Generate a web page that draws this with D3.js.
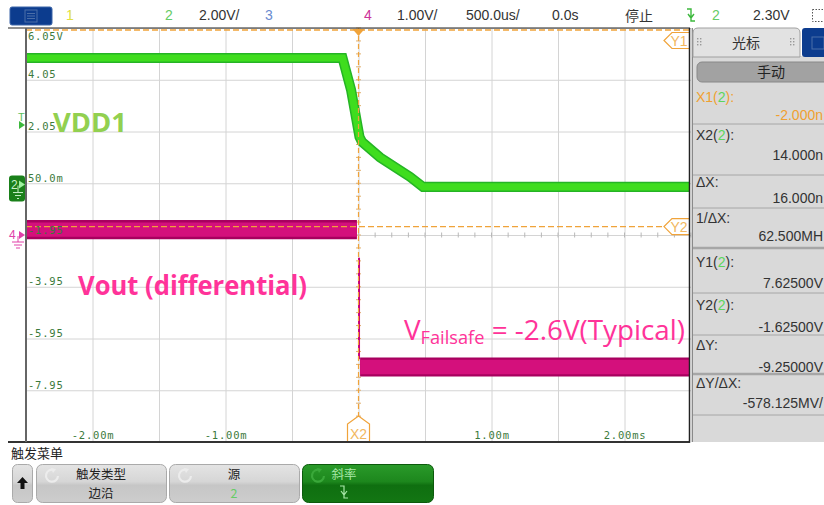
<!DOCTYPE html>
<html><head><meta charset="utf-8">
<script src="https://cdn.jsdelivr.net/npm/d3@7"></script>
<style>
html,body{margin:0;padding:0;background:#fff;}
svg{display:block;}
</style></head><body>
<svg id="c" width="824" height="505"></svg>
<script>
// ---------------- data ----------------
const timeDomain = [-2.5, 2.5];          // ms  (500 us/div, 10 div)
const ch2Domain  = [-9.95, 6.05];        // V   (2.00 V/div, 8 div)
const ch4Domain  = [-4, 4];              // V   (1.00 V/div, 8 div)
const xGridTicks = [-2.5,-2,-1.5,-1,-0.5,0,0.5,1,1.5,2,2.5];
const yGridTicks = [6.05,4.05,2.05,0.05,-1.95,-3.95,-5.95,-7.95,-9.95];
const yTickValues = [6.05,4.05,2.05,0.05,-1.95,-3.95,-5.95,-7.95];
const yTickLabels = ["6.05V","4.05","2.05","50.0m","-1.95","-3.95","-5.95","-7.95"];
const xTickValues = [-2,-1,1,2];
const xTickLabels = ["-2.00m","-1.00m","1.00m","2.00ms"];

// VDD1 (channel 2) trace centre
const vddTime = [-2.5, -0.12, -0.056, 0.0075, 0.026, 0.162, 0.387, 0.485, 2.5];
const vddVolt = [4.89, 4.89, 3.66, 1.84, 1.65, 1.05, 0.30, -0.09, -0.09];
const vddBand = 0.39;                    // V, full noise band

// Vout (channel 4) trace
const voutPreTime  = [-2.5, -0.012];
const voutPreVolt  = [0.105, 0.105];
const voutPostTime = [0.012, 2.5];
const voutPostVolt = [-2.55, -2.55];
const voutBand = 0.185;                  // V, half noise band
const voutEdgeTime = 0.004;
const voutEdgeVolt = [-0.44, -2.40];

// cursors / trigger
const cursorX1 = -0.000002, cursorX2 = 0.000014;   // ms
const cursorY1 = 7.625, cursorY2 = -1.625;         // V (ch2)
const triggerLevel = 2.30;

// cursor panel (as visible in the narrow side panel)
const panelLabels = ["X1(2):","X2(2):","ΔX:","1/ΔX:","Y1(2):","Y2(2):","ΔY:","ΔY/ΔX:"];
const panelValues = ["-2.000n","14.000n","16.000n","62.500MH","7.62500V","-1.62500V","-9.25000V","-578.125MV/"];

// ---------------- drawing ----------------
const svg = d3.select("#c");
const L = 26, R = 691, T = 28, B = 442;
const x  = d3.scaleLinear().domain(timeDomain).range([L, R]);
const y2 = d3.scaleLinear().domain(ch2Domain).range([B, T]);
const y4 = d3.scaleLinear().domain(ch4Domain).range([B, T]);

const defs = svg.append("defs");
defs.append("clipPath").attr("id","plotclip").append("rect")
  .attr("x",L+1).attr("y",T).attr("width",689-L-1).attr("height",B-T);
const gGray = defs.append("linearGradient").attr("id","btnGray").attr("x1",0).attr("y1",0).attr("x2",0).attr("y2",1);
gGray.append("stop").attr("offset","0%").attr("stop-color","#e4e4e4");
gGray.append("stop").attr("offset","45%").attr("stop-color","#d6d6d6");
gGray.append("stop").attr("offset","55%").attr("stop-color","#c6c6c6");
gGray.append("stop").attr("offset","100%").attr("stop-color","#cdcdcd");
const gGreen = defs.append("linearGradient").attr("id","btnGreen").attr("x1",0).attr("y1",0).attr("x2",0).attr("y2",1);
gGreen.append("stop").attr("offset","0%").attr("stop-color","#2a9a2a");
gGreen.append("stop").attr("offset","45%").attr("stop-color","#1d871d");
gGreen.append("stop").attr("offset","55%").attr("stop-color","#0f6f10");
gGreen.append("stop").attr("offset","100%").attr("stop-color","#137613");

// grid
svg.append("g").attr("transform",`translate(0,${B})`)
  .call(d3.axisBottom(x).tickValues(xGridTicks).tickSize(-(B-T)).tickFormat(""))
  .call(g=>{g.select(".domain").remove(); g.selectAll("line").attr("stroke","#d4d4d4");});
svg.append("g").attr("transform",`translate(${L},0)`)
  .call(d3.axisLeft(y2).tickValues(yGridTicks).tickSize(-(R-L)).tickFormat(""))
  .call(g=>{g.select(".domain").remove(); g.selectAll("line").attr("stroke","#d4d4d4");});

// centre-axis minor ticks (4 per division)
const cx0 = x(0), cy0 = y4(0);
const minor = svg.append("g").attr("stroke","#b8b8b8");
d3.range(-2.5, 2.5001, 0.125).forEach(t=>{
  minor.append("line").attr("x1",x(t)).attr("x2",x(t)).attr("y1",cy0-2.5).attr("y2",cy0+2.5);
});
d3.range(-4, 4.001, 0.25).forEach(v=>{
  minor.append("line").attr("y1",y4(v)).attr("y2",y4(v)).attr("x1",cx0-2.5).attr("x2",cx0+2.5).attr("stroke","#e0b070");
});

// traces
const tr = svg.append("g").attr("clip-path","url(#plotclip)");
const vdd = vddTime.map((t,i)=>({t, v:vddVolt[i]}));
const line2 = d3.line().x(d=>x(d.t)).y(d=>y2(d.v));
const bandPx = Math.abs(y2(0)-y2(vddBand));
tr.append("path").attr("d",line2(vdd)).attr("fill","none").attr("stroke","#25b425").attr("stroke-width",bandPx).attr("stroke-linejoin","miter");
tr.append("path").attr("d",line2(vdd)).attr("fill","none").attr("stroke","#3fdd1e").attr("stroke-width",bandPx-3).attr("stroke-linejoin","miter");

const area4 = (k)=>d3.area().x(d=>x(d.t)).y0(d=>y4(d.v-voutBand*k)).y1(d=>y4(d.v+voutBand*k));
[[voutPreTime,voutPreVolt],[voutPostTime,voutPostVolt]].forEach(([ts,vs])=>{
  const pts = ts.map((t,i)=>({t, v:vs[i]}));
  tr.append("path").attr("d",area4(1)(pts)).attr("fill","#a8005f");
  tr.append("path").attr("d",area4(0.75)(pts)).attr("fill","#d4107c");
});
tr.append("line").attr("x1",x(voutEdgeTime)).attr("x2",x(voutEdgeTime))
  .attr("y1",y4(voutEdgeVolt[0])).attr("y2",y4(voutEdgeVolt[1]))
  .attr("stroke","#c8007a").attr("stroke-width",2);

// cursors
const orange = "#f0a33a";
const yY1 = Math.max(T+2, y2(cursorY1));
svg.append("line").attr("x1",L).attr("x2",689).attr("y1",yY1).attr("y2",yY1)
  .attr("stroke",orange).attr("stroke-width",1.3).attr("stroke-dasharray","6,3");
svg.append("line").attr("x1",L).attr("x2",664).attr("y1",y2(cursorY2)).attr("y2",y2(cursorY2))
  .attr("stroke",orange).attr("stroke-width",1.3).attr("stroke-dasharray","6,3");
const xc = x(cursorX2);
svg.append("line").attr("x1",xc).attr("x2",xc).attr("y1",T).attr("y2",416)
  .attr("stroke",orange).attr("stroke-width",1.2).attr("stroke-dasharray","5,3");
// trigger position marker
svg.append("path").attr("d",`M${x(0)-6},${T+1}L${x(0)+6},${T+1}L${x(0)},${T+8}Z`).attr("fill",orange);
// X2 tag
svg.append("path").attr("d",`M${xc-11},${B}V424L${xc},416L${xc+11},424V${B}`)
  .attr("fill","#fff").attr("stroke",orange).attr("stroke-width",1.2);
svg.append("text").attr("x",xc).attr("y",439).attr("text-anchor","middle")
  .attr("font-family","Liberation Sans, Arial").attr("font-size",14).attr("fill","#f2b860").text("X2");
// Y tags
function yTag(yy, label){
  svg.append("path").attr("d",`M689,${yy-8}H672L664,${yy}L672,${yy+8}H689`)
    .attr("fill","#fff").attr("stroke",orange).attr("stroke-width",1.2);
  svg.append("text").attr("x",679).attr("y",yy+5).attr("text-anchor","middle")
    .attr("font-family","Liberation Sans, Arial").attr("font-size",14).attr("fill","#f2b860").text(label);
}
yTag(40.5,"Y1");
yTag(y2(cursorY2),"Y2");

// plot frame
svg.append("line").attr("x1",8).attr("x2",690).attr("y1",T).attr("y2",T).attr("stroke","#222").attr("stroke-width",1.2);
svg.append("line").attr("x1",8).attr("x2",690).attr("y1",B).attr("y2",B).attr("stroke","#333").attr("stroke-width",1.8);
svg.append("line").attr("x1",L).attr("x2",L).attr("y1",T).attr("y2",B).attr("stroke","#666").attr("stroke-width",2);
svg.append("line").attr("x1",689.5).attr("x2",689.5).attr("y1",T).attr("y2",B).attr("stroke","#222").attr("stroke-width",1.5);

// tick labels
const tickFont = "DejaVu Sans Mono, monospace";
svg.append("g").attr("transform",`translate(${L},0)`)
  .call(d3.axisRight(y2).tickValues(yTickValues).tickSize(0).tickPadding(2)
        .tickFormat((d,i)=>yTickLabels[i]))
  .call(g=>{
    g.select(".domain").remove();
    g.selectAll("text").attr("font-family",tickFont).attr("font-size",10.5)
      .attr("letter-spacing",0.8).attr("fill","#3c7a3c")
      .attr("dy",(d,i)=> i===0 ? "11px" : "-2px");
  });
svg.append("g").attr("transform",`translate(0,${B})`)
  .call(d3.axisBottom(x).tickValues(xTickValues).tickSize(0)
        .tickFormat((d,i)=>xTickLabels[i]))
  .call(g=>{
    g.select(".domain").remove();
    g.selectAll("text").attr("font-family",tickFont).attr("font-size",10.5)
      .attr("letter-spacing",0.8).attr("fill","#3c7a3c").attr("y",-3).attr("dy",0);
  });

// left-edge channel markers
const ytrig = y2(triggerLevel);
svg.append("text").attr("x",18).attr("y",ytrig-4).attr("font-family","Liberation Sans, Arial")
  .attr("font-size",11).attr("fill","#5cbf5c").text("T");
svg.append("path").attr("d",`M19,${ytrig-4}L25,${ytrig}L19,${ytrig+4}Z`).attr("fill","#3cb83c");
const y2g = y2(0);
svg.append("rect").attr("x",9).attr("y",y2g-9).attr("width",16).attr("height",26).attr("rx",3).attr("fill","#1a801a");
svg.append("text").attr("x",11).attr("y",y2g+4).attr("font-family","Liberation Sans, Arial")
  .attr("font-size",12).attr("fill","#c8f0c8").text("2");
svg.append("path").attr("d",`M19,${y2g-4}L25,${y2g}L19,${y2g+4}Z`).attr("fill","#9ef09e");
svg.append("path").attr("d",`M18,${y2g+1}V${y2g+8}M13,${y2g+8}H23M15,${y2g+11}H21M17,${y2g+14}H19`)
  .attr("stroke","#c8f0c8").attr("fill","none");
const y4g = y4(0);
svg.append("text").attr("x",9).attr("y",y4g+4).attr("font-family","Liberation Sans, Arial")
  .attr("font-size",12).attr("fill","#e040a8").text("4");
svg.append("path").attr("d",`M19,${y4g-4}L25,${y4g}L19,${y4g+4}Z`).attr("fill","#e040a8");
svg.append("path").attr("d",`M18,${y4g+1}V${y4g+7}M12,${y4g+7}H24M14,${y4g+10}H22M16,${y4g+13}H20`)
  .attr("stroke","#e040a8").attr("fill","none");

// annotation labels
const annoFont = "Open Sans, Lato, sans-serif";
svg.append("text").attr("x",53).attr("y",132).attr("font-family",annoFont).attr("font-weight","bold")
  .attr("font-size",27).attr("fill","#92d050").attr("textLength",74).attr("lengthAdjust","spacingAndGlyphs").text("VDD1");
svg.append("text").attr("x",78).attr("y",295).attr("font-family",annoFont).attr("font-weight","bold")
  .attr("font-size",26).attr("fill","#ff3399").attr("textLength",229).attr("lengthAdjust","spacingAndGlyphs").text("Vout (differential)");
const fs = svg.append("text").attr("x",404).attr("y",340).attr("font-family",annoFont)
  .attr("font-size",27.5).attr("fill","#ff3399").attr("textLength",281).attr("lengthAdjust","spacingAndGlyphs");
fs.append("tspan").text("V");
fs.append("tspan").attr("font-size",18).attr("dy",4).text("Failsafe");
fs.append("tspan").attr("dy",-4).text(" = -2.6V(Typical)");

// ---------------- header bar ----------------
const hFont = "Liberation Sans, Arial, sans-serif";
svg.append("rect").attr("x",10).attr("y",7).attr("width",42).attr("height",18).attr("rx",2)
  .attr("fill","#0c3c8e").attr("stroke","#3a64a8");
svg.append("rect").attr("x",25).attr("y",10).attr("width",12).attr("height",12).attr("fill","none").attr("stroke","#4a6ea8");
svg.append("path").attr("d","M27,13.5H35M27,16H35M27,18.5H35").attr("stroke","#4a6ea8");
function htext(xx, t, col){ svg.append("text").attr("x",xx).attr("y",20).attr("font-family",hFont)
  .attr("font-size",14).attr("fill",col).text(t); }
htext(66,"1","#e0e040");
htext(165,"2","#66cc66");
htext(199,"2.00V/","#333");
htext(265,"3","#6b8cd0");
htext(364,"4","#cc3399");
htext(397,"1.00V/","#333");
htext(466,"500.0us/","#333");
htext(552,"0.0s","#333");
svg.append("text").attr("x",625).attr("y",21).attr("font-family","Noto Sans CJK SC").attr("font-size",14).attr("fill","#333").text("停止");
function fallIcon(cx, cy, col, sw){
  svg.append("path").attr("d",`M${cx-4},${cy-6}H${cx}V${cy+6}H${cx+4}M${cx-3},${cy-1}L${cx},${cy+3}L${cx+3},${cy-1}`)
    .attr("fill","none").attr("stroke",col).attr("stroke-width",sw||1.4);
}
fallIcon(691,15,"#3cb83c");
htext(712,"2","#66cc66");
htext(753,"2.30V","#333");
svg.append("rect").attr("x",812.5).attr("y",9.5).attr("width",14).attr("height",12)
  .attr("fill","none").attr("stroke","#555").attr("stroke-dasharray","1.5,1.5");

// ---------------- cursor panel ----------------
svg.append("rect").attr("x",692).attr("y",56).attr("width",132).attr("height",B-56).attr("fill","#d9d9d9");
svg.append("line").attr("x1",692.5).attr("x2",692.5).attr("y1",28).attr("y2",B).attr("stroke","#8a8a8a");
svg.append("path").attr("d","M693,57V33Q693,28 698,28H795Q800,28 800,33V57Z").attr("fill","#e2e2e2").attr("stroke","#a0a0a0");
svg.append("rect").attr("x",802).attr("y",28).attr("width",24).attr("height",29).attr("rx",3).attr("fill","#0c3c8e");
svg.append("rect").attr("x",812).attr("y",37).attr("width",12).attr("height",12).attr("fill","none").attr("stroke","#4a6ea8");
function grip(gx){ [0,3].forEach(dx=>[0,3,6].forEach(dy=>svg.append("rect").attr("x",gx+dx).attr("y",38+dy)
  .attr("width",1.4).attr("height",1.4).attr("fill","#999"))); }
grip(697); grip(790);
svg.append("text").attr("x",746).attr("y",48).attr("text-anchor","middle").attr("font-family","Noto Sans CJK SC")
  .attr("font-size",14).attr("fill","#333").text("光标");
svg.append("rect").attr("x",697).attr("y",62).attr("width",135).attr("height",20).attr("rx",5)
  .attr("fill","#a2a2a2").attr("stroke","#888");
svg.append("text").attr("x",771).attr("y",77).attr("text-anchor","middle").attr("font-family","Noto Sans CJK SC")
  .attr("font-size",14).attr("fill","#222").text("手动");

const rowLabelY = [102,140,187,223,267,310,350,388];
const rowValueY = [120,160,203,241,288,332,372,408];
const sepY = [124,175,208,248,293,335,374,415];
const sepW = [1,1,1,2.5,1,1,2.5,1];
panelLabels.forEach((lab,i)=>{
  const base = i===0 ? "#f0a030" : "#333";
  const t = svg.append("text").attr("x",696).attr("y",rowLabelY[i]).attr("font-family",hFont)
    .attr("font-size",14).attr("fill",base);
  const m = lab.match(/^(.*\()(\d)(\).*)$/);
  if(m){ t.append("tspan").text(m[1]); t.append("tspan").attr("fill","#5cd65c").text(m[2]); t.append("tspan").text(m[3]); }
  else t.text(lab);
  svg.append("text").attr("x",823).attr("y",rowValueY[i]).attr("text-anchor","end").attr("font-family",hFont)
    .attr("font-size",14).attr("fill",i===0 ? "#f0a030" : "#333").text(panelValues[i]);
  svg.append("line").attr("x1",693).attr("x2",824).attr("y1",sepY[i]).attr("y2",sepY[i])
    .attr("stroke","#a6a6a6").attr("stroke-width",sepW[i]);
});

// ---------------- bottom softkey menu ----------------
const cjk = "Noto Sans CJK SC";
svg.append("text").attr("x",11).attr("y",458).attr("font-family",cjk).attr("font-size",13).attr("fill","#222").text("触发菜单");
svg.append("rect").attr("x",12.5).attr("y",464.5).attr("width",20).attr("height",38).attr("rx",5)
  .attr("fill","url(#btnGray)").attr("stroke","#aaa");
svg.append("path").attr("d","M22.5,477L17,483H20.5V489H24.5V483H28Z").attr("fill","#111");
function softkey(x0, w, fill, stroke, l1, l2, c1, c2, tx, refresh){
  svg.append("rect").attr("x",x0+0.5).attr("y",464.5).attr("width",w).attr("height",38).attr("rx",6)
    .attr("fill",fill).attr("stroke",stroke);
  svg.append("path").attr("d",`M${x0+18},${470}A6,6 0 1 0 ${x0+22},${476}`).attr("fill","none")
    .attr("stroke",refresh).attr("stroke-width",2.2);
  svg.append("path").attr("d",`M${x0+15},${468}L${x0+20},${469}L${x0+17},${473}Z`).attr("fill",refresh);
  svg.append("text").attr("x",tx).attr("y",479).attr("text-anchor","middle").attr("font-family",cjk)
    .attr("font-size",12.5).attr("fill",c1).text(l1);
  if(l2!==null) svg.append("text").attr("x",tx).attr("y",498).attr("text-anchor","middle").attr("font-family",cjk)
    .attr("font-size",12.5).attr("fill",c2).text(l2);
}
softkey(36,130,"url(#btnGray)","#aaa","触发类型","边沿","#222","#222",101,"#ececec");
softkey(169,130,"url(#btnGray)","#aaa","源","2","#222","#66cc66",234,"#ececec");
softkey(302,131,"url(#btnGreen)","#0c5a0c","斜率",null,"#a8e8a8","#a8e8a8",344,"#3aa83a");
fallIcon(344,492,"#a8e8a8",1.2);
</script>
</body></html>
